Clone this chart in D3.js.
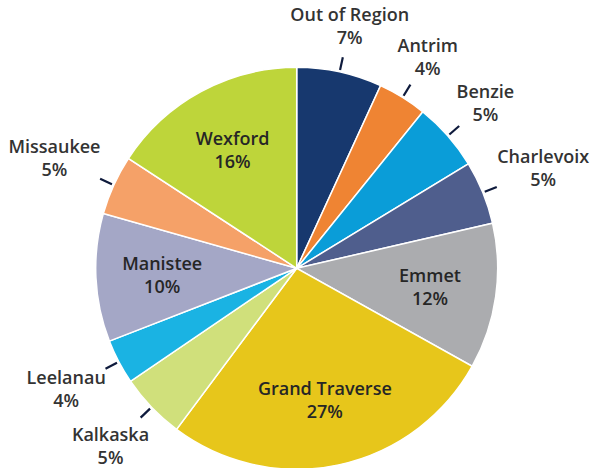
<!DOCTYPE html>
<html>
<head>
<meta charset="utf-8">
<script src="https://cdn.jsdelivr.net/npm/d3@7"></script>
<style>
  html, body { margin: 0; padding: 0; background: #fff; }
  svg { display: block; }
</style>
</head>
<body>
<script>
// Chart data (clockwise from 12 o'clock)
const regions = ["Out of Region", "Antrim", "Benzie", "Charlevoix", "Emmet", "Grand Traverse",
  "Kalkaska", "Leelanau", "Manistee", "Missaukee", "Wexford"];
const shares = [6.85, 3.95, 5.5, 5.1, 11.7, 27.1, 5.3, 3.6, 10.3, 4.8, 15.8];
const shareLabels = ["7%", "4%", "5%", "5%", "12%", "27%", "5%", "4%", "10%", "5%", "16%"];
const colors = ["#17386e", "#ef8433", "#0a9dd8", "#4f5e8d", "#abacaf", "#e7c61b",
  "#d0e07b", "#1ab3e3", "#a4a7c6", "#f5a168", "#bed53a"];
const insideLabels = ["Emmet", "Grand Traverse", "Manistee", "Wexford"];

const width = 592, height = 468;
const cx = 296.7, cy = 268.3, radius = 201;

const svg = d3.select("body").append("svg")
  .attr("width", width)
  .attr("height", height)
  .attr("viewBox", [0, 0, width, height]);

const data = regions.map((name, i) => ({ name, value: shares[i], label: shareLabels[i], color: colors[i] }));

const pie = d3.pie().value((d) => d.value).sort(null);
const arcs = pie(data);
const arc = d3.arc().innerRadius(0).outerRadius(radius);

const g = svg.append("g").attr("transform", `translate(${cx},${cy})`);

// Slices
g.selectAll("path.slice")
  .data(arcs)
  .join("path")
  .attr("class", "slice")
  .attr("d", arc)
  .attr("fill", (d) => d.data.color)
  .attr("stroke", "#fff")
  .attr("stroke-width", 1.5);

const font = "'Open Sans', 'Noto Sans', sans-serif";
const fontSize = 18;
const lineH = 23;

const midAngle = (d) => (d.startAngle + d.endAngle) / 2;

// Labels inside the big slices
const inner = arcs.filter((d) => insideLabels.includes(d.data.name));
const innerArc = d3.arc().innerRadius(radius * 0.67).outerRadius(radius * 0.67);

inner.forEach((d) => {
  const [x, y] = innerArc.centroid(d);
  const t = g.append("text")
    .attr("text-anchor", "middle")
    .attr("font-family", font)
    .attr("font-weight", 600)
    .attr("font-size", fontSize)
    .attr("fill", "#262626");
  t.append("tspan").attr("x", x).attr("y", y - 5).text(d.data.name);
  t.append("tspan").attr("x", x).attr("y", y - 5 + lineH).text(d.data.label);
});

// Outer labels with small tick marks
const outer = arcs.filter((d) => !insideLabels.includes(d.data.name));
const tickIn = radius + 2, tickOut = radius + 15, labelGap = radius + 15;

outer.forEach((d) => {
  const a = midAngle(d);
  const s = Math.sin(a), c = -Math.cos(a);
  g.append("line")
    .attr("x1", s * tickIn).attr("y1", c * tickIn)
    .attr("x2", s * tickOut).attr("y2", c * tickOut)
    .attr("stroke", "#0e1a3c")
    .attr("stroke-width", 2.2);

  const t = g.append("text")
    .attr("text-anchor", "middle")
    .attr("font-family", font)
    .attr("font-weight", 600)
    .attr("font-size", fontSize)
    .attr("fill", "#333");
  const t1 = t.append("tspan").attr("x", 0).attr("y", 0).text(d.data.name);
  const t2 = t.append("tspan").attr("x", 0).attr("y", lineH).text(d.data.label);

  // push the label box outward until it sits just clear of the ticks
  const hw = t1.node().getComputedTextLength() / 2, hh = 20;
  const r = labelGap + hw * Math.abs(s) + hh * Math.abs(c);
  const x = s * r, yc = c * r;
  t1.attr("x", x).attr("y", yc - 5);
  t2.attr("x", x).attr("y", yc - 5 + lineH);
});
</script>
</body>
</html>
